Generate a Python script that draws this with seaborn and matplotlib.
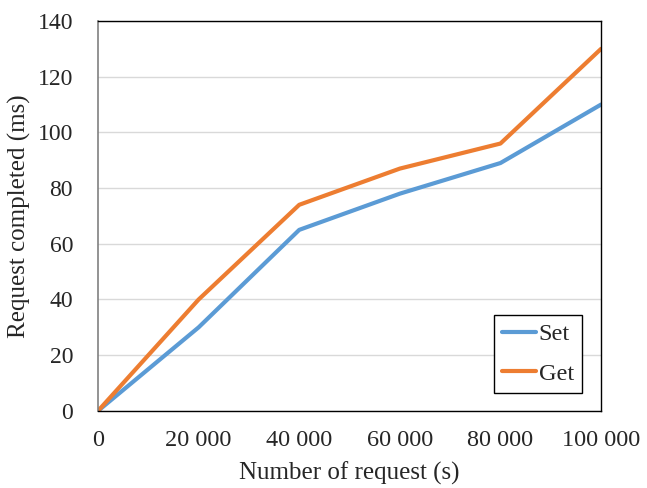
import matplotlib
matplotlib.use("Agg")
import matplotlib.pyplot as plt
import seaborn as sns
import pandas as pd
from matplotlib.ticker import FuncFormatter

requests = [0, 20000, 40000, 60000, 80000, 100000]
set_ms = [0, 30, 65, 78, 89, 110]
get_ms = [0, 40, 74, 87, 96, 130]
series_names = ["Set", "Get"]
colors = ["#5B9BD5", "#ED7D31"]

df = pd.DataFrame({
    "requests": requests * 2,
    "ms": set_ms + get_ms,
    "series": [series_names[0]] * len(requests) + [series_names[1]] * len(requests),
})

sns.set_style("white")
plt.rcParams["font.family"] = ["Liberation Serif", "DejaVu Serif"]

fig = plt.figure(figsize=(6.47, 4.88), dpi=100)
ax = fig.add_axes([0.1515, 0.158, 0.7775, 0.799])

sns.lineplot(data=df, x="requests", y="ms", hue="series", palette=colors,
             linewidth=3.0, ax=ax, legend=True)

ax.set_xlim(0, 100000)
ax.set_ylim(0, 140)
ax.set_xticks(requests)
ax.set_yticks(range(0, 141, 20))
ax.xaxis.set_major_formatter(FuncFormatter(lambda v, p: f"{int(v):,}".replace(",", " ")))
ax.yaxis.grid(True, color="#D9D9D9", linewidth=1.0)
ax.set_axisbelow(True)

for side in ["top", "right", "bottom"]:
    ax.spines[side].set_color("black")
    ax.spines[side].set_linewidth(1.0)
ax.spines["left"].set_color("#808080")
ax.spines["left"].set_linewidth(1.2)

ax.tick_params(axis="y", which="major", length=6, color="#808080", width=1, labelsize=17, pad=12)
ax.tick_params(axis="x", which="major", length=0, labelsize=17.5, pad=14)

ax.set_xlabel("Number of request (s)", fontsize=18)
ax.set_ylabel("Request completed (ms)", fontsize=18)
ax.xaxis.set_label_coords(0.5, -0.13)
ax.yaxis.set_label_coords(-0.133, 0.5)

leg = ax.legend(loc="lower right", bbox_to_anchor=(0.962, 0.046), fontsize=17.5,
                frameon=True, fancybox=False, handlelength=1.4, handletextpad=0.12,
                borderpad=0.33, labelspacing=0.72, borderaxespad=0)
leg.get_frame().set_edgecolor("black")
leg.get_frame().set_linewidth(1.0)
leg.get_frame().set_alpha(1)

fig.savefig("out.png", dpi=100)
